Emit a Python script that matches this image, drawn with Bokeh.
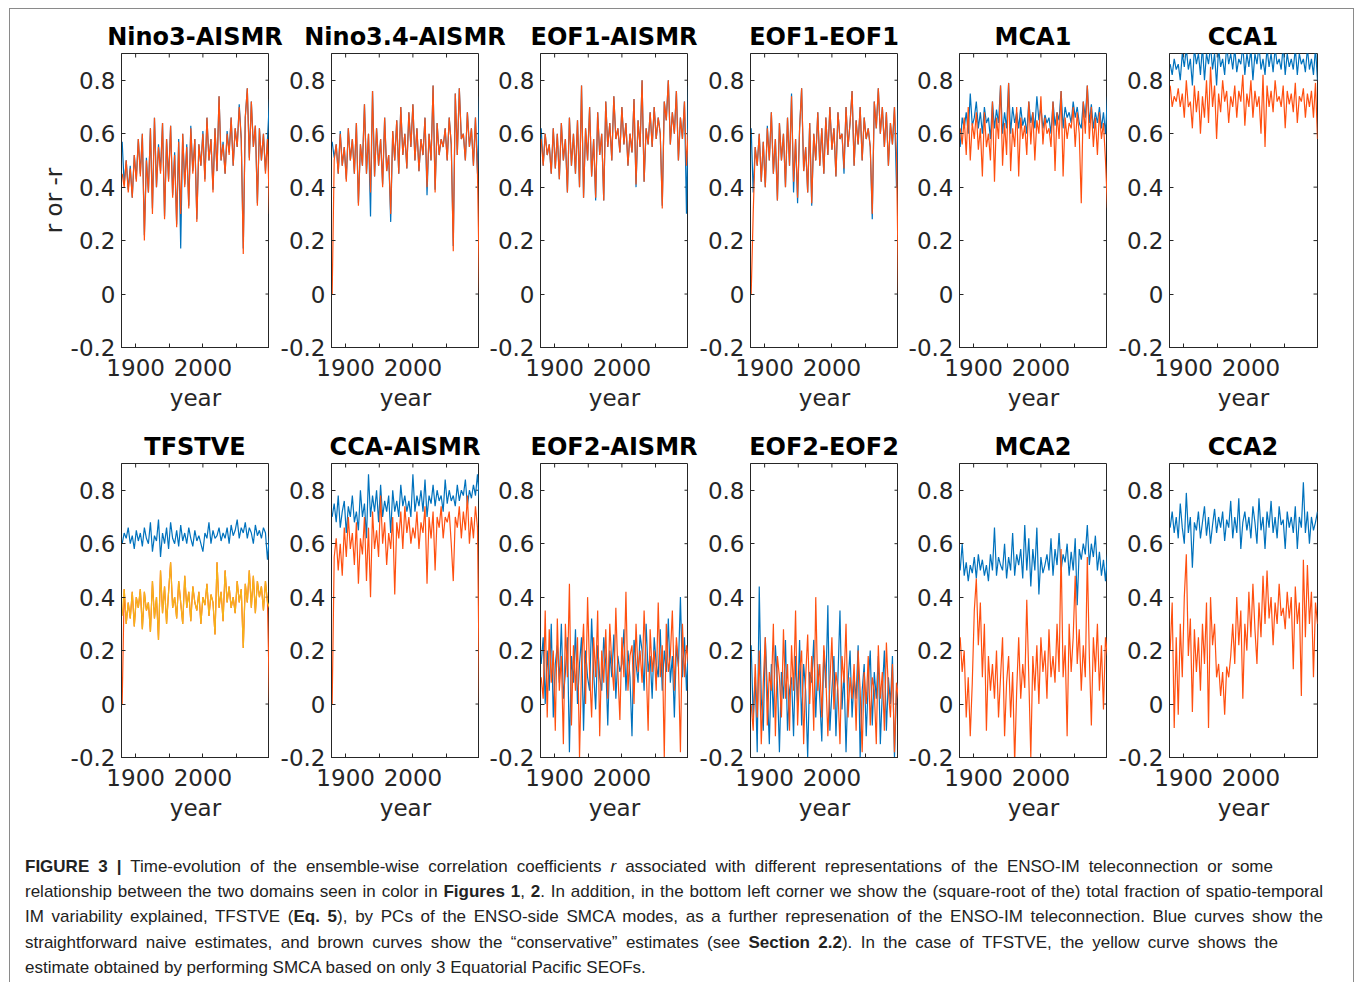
import math
from bokeh.plotting import figure
from bokeh.layouts import column, row
from bokeh.models import FixedTicker, Div, PrintfTickFormatter
from bokeh.embed import file_html
from bokeh.resources import INLINE

# ---------------- data ----------------
YEARS = list(range(1880, 2100, 3))  # 74 sample years

TITLES = ["Nino3-AISMR", "Nino3.4-AISMR", "EOF1-AISMR", "EOF1-EOF1", "MCA1", "CCA1",
          "TFSTVE", "CCA-AISMR", "EOF2-AISMR", "EOF2-EOF2", "MCA2", "CCA2"]

X_RANGE = (1879, 2099)
Y_RANGE = (-0.2, 0.9)
X_MAJOR = [1900, 2000]
X_MINOR = [1950, 2050]
Y_TICKS = [-0.2, 0, 0.2, 0.4, 0.6, 0.8]

# Nino3-AISMR
B1 = [0.57,0.41,0.50,0.39,0.48,0.36,0.52,0.43,0.58,0.45,
      0.60,0.22,0.51,0.38,0.62,0.32,0.66,0.40,0.56,0.46,
      0.64,0.29,0.58,0.43,0.63,0.37,0.53,0.26,0.58,0.17,
      0.60,0.41,0.56,0.33,0.63,0.46,0.58,0.28,0.56,0.48,
      0.61,0.43,0.66,0.50,0.58,0.39,0.62,0.46,0.74,0.50,
      0.57,0.45,0.61,0.53,0.66,0.48,0.62,0.55,0.71,0.58,
      0.17,0.66,0.77,0.51,0.72,0.55,0.63,0.34,0.62,0.50,
      0.60,0.46,0.58,0.73]
O1 = [0.45,0.40,0.50,0.38,0.47,0.36,0.52,0.42,0.58,0.44,
      0.60,0.20,0.50,0.38,0.62,0.30,0.66,0.40,0.55,0.45,
      0.64,0.28,0.58,0.42,0.63,0.36,0.52,0.25,0.57,0.30,
      0.60,0.40,0.55,0.32,0.62,0.45,0.58,0.27,0.56,0.48,
      0.60,0.42,0.66,0.50,0.58,0.38,0.62,0.46,0.74,0.50,
      0.56,0.45,0.60,0.52,0.66,0.48,0.62,0.55,0.70,0.58,
      0.15,0.66,0.77,0.50,0.72,0.55,0.63,0.33,0.62,0.50,
      0.60,0.45,0.58,0.30]
# Nino3.4-AISMR
B2 = [0.57,0.51,0.56,0.45,0.61,0.48,0.55,0.43,0.62,0.50,
      0.58,0.45,0.64,0.34,0.56,0.48,0.71,0.45,0.60,0.29,
      0.76,0.44,0.62,0.48,0.58,0.41,0.66,0.46,0.52,0.27,
      0.61,0.50,0.65,0.45,0.70,0.52,0.60,0.47,0.68,0.55,
      0.71,0.50,0.62,0.46,0.58,0.52,0.66,0.37,0.60,0.50,
      0.78,0.39,0.64,0.52,0.58,0.55,0.62,0.50,0.66,0.56,
      0.18,0.75,0.52,0.77,0.58,0.60,0.50,0.68,0.55,0.62,
      0.48,0.66,0.45,0.74]
O2 = [0.00,0.50,0.56,0.45,0.60,0.48,0.55,0.42,0.62,0.50,
      0.58,0.45,0.64,0.33,0.56,0.48,0.71,0.45,0.60,0.38,
      0.76,0.44,0.62,0.48,0.58,0.40,0.66,0.46,0.52,0.30,
      0.61,0.50,0.65,0.45,0.70,0.52,0.60,0.47,0.68,0.55,
      0.71,0.50,0.62,0.46,0.58,0.52,0.66,0.40,0.60,0.50,
      0.78,0.38,0.64,0.52,0.58,0.55,0.62,0.50,0.66,0.56,
      0.16,0.75,0.52,0.77,0.58,0.60,0.50,0.68,0.55,0.62,
      0.48,0.66,0.45,0.00]
# EOF1-AISMR
B3 = [0.62,0.48,0.60,0.52,0.56,0.45,0.62,0.47,0.60,0.43,
      0.64,0.50,0.58,0.38,0.66,0.48,0.60,0.45,0.65,0.40,
      0.78,0.36,0.62,0.50,0.70,0.44,0.58,0.35,0.68,0.52,
      0.60,0.35,0.72,0.55,0.64,0.50,0.74,0.58,0.62,0.53,
      0.70,0.56,0.64,0.48,0.60,0.53,0.73,0.40,0.65,0.55,
      0.80,0.42,0.62,0.56,0.68,0.55,0.70,0.58,0.66,0.60,
      0.33,0.72,0.65,0.80,0.56,0.68,0.60,0.76,0.50,0.66,
      0.58,0.72,0.30,0.78]
O3 = [0.58,0.48,0.60,0.52,0.56,0.45,0.62,0.47,0.60,0.43,
      0.64,0.50,0.58,0.38,0.66,0.48,0.60,0.45,0.65,0.40,
      0.78,0.36,0.62,0.50,0.70,0.44,0.58,0.36,0.68,0.52,
      0.60,0.35,0.72,0.55,0.64,0.50,0.74,0.58,0.62,0.53,
      0.70,0.56,0.64,0.48,0.60,0.53,0.73,0.41,0.65,0.55,
      0.80,0.42,0.62,0.56,0.68,0.55,0.70,0.58,0.66,0.60,
      0.32,0.72,0.65,0.80,0.56,0.68,0.60,0.76,0.50,0.66,
      0.58,0.72,0.48,0.62]
# EOF1-EOF1
B4 = [0.62,0.38,0.55,0.48,0.60,0.42,0.57,0.40,0.63,0.50,
      0.68,0.45,0.58,0.35,0.64,0.50,0.60,0.40,0.66,0.48,
      0.75,0.38,0.58,0.34,0.62,0.77,0.46,0.55,0.38,0.64,
      0.33,0.60,0.50,0.68,0.48,0.62,0.45,0.66,0.52,0.70,
      0.54,0.62,0.44,0.68,0.58,0.60,0.45,0.70,0.55,0.64,
      0.76,0.48,0.65,0.56,0.70,0.50,0.66,0.58,0.62,0.55,
      0.28,0.72,0.62,0.77,0.60,0.70,0.55,0.68,0.48,0.64,
      0.56,0.70,0.40,0.72]
O4 = [0.00,0.30,0.55,0.48,0.60,0.42,0.57,0.40,0.62,0.50,
      0.68,0.45,0.58,0.35,0.64,0.50,0.60,0.40,0.66,0.48,
      0.74,0.42,0.58,0.36,0.62,0.77,0.46,0.55,0.38,0.64,
      0.34,0.60,0.50,0.68,0.48,0.62,0.45,0.66,0.52,0.70,
      0.54,0.62,0.44,0.68,0.58,0.60,0.47,0.70,0.55,0.64,
      0.76,0.48,0.65,0.56,0.70,0.50,0.66,0.58,0.62,0.55,
      0.30,0.72,0.62,0.77,0.60,0.70,0.55,0.68,0.48,0.64,
      0.56,0.70,0.52,0.00]
# MCA1
B5 = [0.55,0.66,0.62,0.68,0.60,0.75,0.63,0.66,0.72,0.62,
      0.68,0.60,0.70,0.64,0.66,0.58,0.72,0.62,0.69,0.64,
      0.78,0.60,0.68,0.62,0.79,0.60,0.70,0.64,0.68,0.62,
      0.70,0.63,0.66,0.60,0.72,0.64,0.68,0.62,0.74,0.65,
      0.70,0.62,0.67,0.64,0.66,0.60,0.72,0.63,0.68,0.65,
      0.76,0.62,0.70,0.66,0.68,0.64,0.72,0.66,0.70,0.64,
      0.62,0.72,0.66,0.78,0.64,0.71,0.62,0.68,0.64,0.70,
      0.62,0.68,0.60,0.74]
O5 = [0.62,0.56,0.66,0.52,0.70,0.50,0.64,0.58,0.68,0.54,
      0.62,0.44,0.68,0.55,0.60,0.50,0.72,0.42,0.66,0.58,
      0.78,0.48,0.64,0.52,0.79,0.46,0.62,0.55,0.70,0.44,
      0.66,0.58,0.63,0.52,0.72,0.56,0.68,0.50,0.65,0.60,
      0.74,0.56,0.66,0.60,0.62,0.55,0.72,0.46,0.68,0.58,
      0.76,0.44,0.66,0.58,0.64,0.62,0.70,0.55,0.68,0.60,
      0.34,0.72,0.60,0.78,0.58,0.70,0.55,0.66,0.52,0.68,
      0.58,0.64,0.50,0.32]
# CCA1
B6 = [0.86,0.82,0.88,0.84,0.86,0.80,0.90,0.85,0.92,0.84,
      0.88,0.78,0.92,0.86,0.90,0.82,0.93,0.80,0.90,0.86,
      0.93,0.84,0.90,0.78,0.92,0.85,0.88,0.82,0.93,0.86,
      0.90,0.84,0.92,0.83,0.88,0.86,0.93,0.82,0.90,0.85,
      0.92,0.80,0.90,0.86,0.93,0.84,0.88,0.82,0.92,0.85,
      0.90,0.83,0.92,0.86,0.88,0.84,0.93,0.82,0.90,0.85,
      0.88,0.84,0.92,0.82,0.90,0.86,0.88,0.83,0.92,0.84,
      0.88,0.82,0.92,0.80]
O6 = [0.78,0.70,0.74,0.72,0.77,0.70,0.75,0.66,0.80,0.70,
      0.72,0.62,0.78,0.68,0.76,0.60,0.74,0.66,0.80,0.64,
      0.85,0.70,0.78,0.58,0.75,0.68,0.80,0.72,0.76,0.64,
      0.74,0.70,0.78,0.66,0.76,0.72,0.82,0.63,0.75,0.70,
      0.80,0.66,0.76,0.70,0.74,0.60,0.82,0.55,0.78,0.70,
      0.76,0.68,0.80,0.72,0.74,0.70,0.78,0.62,0.76,0.71,
      0.75,0.68,0.79,0.64,0.74,0.72,0.77,0.66,0.75,0.70,
      0.76,0.66,0.79,0.58]
# TFSTVE
B7 = [0.60,0.64,0.62,0.66,0.60,0.63,0.58,0.65,0.61,0.64,
      0.59,0.66,0.62,0.60,0.68,0.57,0.63,0.61,0.69,0.55,
      0.64,0.60,0.66,0.58,0.68,0.62,0.60,0.65,0.59,0.67,
      0.61,0.64,0.60,0.66,0.62,0.59,0.65,0.61,0.63,0.60,
      0.57,0.64,0.62,0.68,0.60,0.65,0.62,0.63,0.66,0.61,
      0.64,0.62,0.66,0.60,0.67,0.63,0.65,0.69,0.62,0.66,
      0.64,0.68,0.62,0.66,0.64,0.60,0.67,0.63,0.65,0.62,
      0.66,0.64,0.54,0.63]
O7 = [0.00,0.43,0.30,0.38,0.32,0.42,0.29,0.40,0.36,0.43,
      0.28,0.42,0.35,0.38,0.27,0.46,0.32,0.40,0.24,0.50,
      0.34,0.44,0.30,0.42,0.53,0.36,0.40,0.32,0.46,0.38,
      0.30,0.48,0.36,0.42,0.31,0.44,0.38,0.35,0.42,0.30,
      0.40,0.37,0.45,0.33,0.41,0.38,0.26,0.53,0.36,0.42,
      0.31,0.50,0.38,0.44,0.36,0.40,0.34,0.46,0.38,0.43,
      0.21,0.45,0.38,0.50,0.36,0.48,0.34,0.46,0.40,0.44,
      0.35,0.46,0.38,0.00]
Y7 = [0.33,0.43,0.30,0.38,0.32,0.42,0.29,0.40,0.36,0.43,
      0.28,0.42,0.35,0.38,0.27,0.46,0.32,0.40,0.24,0.50,
      0.34,0.44,0.30,0.42,0.53,0.36,0.40,0.32,0.46,0.38,
      0.30,0.48,0.36,0.42,0.31,0.44,0.38,0.35,0.42,0.30,
      0.40,0.37,0.45,0.33,0.41,0.38,0.26,0.53,0.36,0.42,
      0.31,0.50,0.38,0.44,0.36,0.40,0.34,0.46,0.38,0.43,
      0.21,0.45,0.38,0.50,0.36,0.48,0.34,0.46,0.40,0.44,
      0.35,0.46,0.38,0.36]
# CCA-AISMR
B8 = [0.70,0.75,0.68,0.78,0.66,0.72,0.76,0.64,0.74,0.70,
      0.78,0.68,0.72,0.65,0.80,0.70,0.75,0.62,0.86,0.70,
      0.78,0.72,0.80,0.68,0.82,0.70,0.76,0.72,0.78,0.64,
      0.80,0.72,0.76,0.70,0.82,0.74,0.78,0.72,0.76,0.70,
      0.86,0.72,0.78,0.74,0.80,0.72,0.84,0.70,0.78,0.75,
      0.82,0.74,0.80,0.76,0.78,0.72,0.84,0.75,0.80,0.76,
      0.78,0.74,0.82,0.76,0.80,0.78,0.84,0.74,0.80,0.77,
      0.82,0.78,0.86,0.76]
O8 = [0.00,0.55,0.62,0.50,0.60,0.48,0.66,0.55,0.70,0.58,
      0.64,0.52,0.68,0.45,0.62,0.56,0.70,0.46,0.66,0.40,
      0.72,0.58,0.65,0.55,0.78,0.60,0.68,0.52,0.64,0.58,
      0.70,0.41,0.68,0.62,0.72,0.58,0.74,0.64,0.70,0.60,
      0.66,0.62,0.72,0.58,0.68,0.64,0.74,0.45,0.70,0.62,
      0.72,0.50,0.70,0.66,0.74,0.62,0.70,0.68,0.72,0.60,
      0.46,0.70,0.66,0.74,0.62,0.72,0.65,0.78,0.60,0.70,
      0.62,0.74,0.66,0.00]
# EOF2-AISMR
B9 = [0.15,0.25,0.00,0.20,0.05,0.30,-0.05,0.15,0.22,0.08,
      0.30,0.02,0.12,0.25,-0.18,0.18,0.08,0.28,0.00,0.15,
      0.25,-0.10,0.20,0.10,0.05,0.32,0.12,-0.02,0.22,0.10,
      0.05,0.25,0.15,-0.08,0.20,0.10,0.26,0.02,0.18,0.12,
      0.15,0.28,0.05,0.20,0.10,-0.12,0.24,0.15,0.08,0.26,
      0.20,0.05,0.30,0.12,0.18,0.02,0.25,0.15,0.10,0.28,
      0.05,0.20,0.12,0.32,0.08,0.18,-0.05,0.22,0.14,0.40,
      0.10,0.25,0.05,0.22]
O9 = [0.10,0.02,0.35,-0.05,0.28,0.08,0.20,-0.10,0.32,0.05,
      0.18,-0.15,0.30,0.10,0.45,-0.08,0.22,0.05,0.25,-0.20,
      0.15,0.30,0.00,0.40,0.12,-0.05,0.25,0.10,0.35,-0.12,
      0.20,0.08,0.28,0.02,0.30,0.15,0.05,0.36,0.12,-0.06,
      0.25,0.10,0.42,0.05,0.18,0.22,0.00,0.30,0.12,0.20,
      0.08,0.35,0.15,-0.10,0.28,0.12,0.20,0.05,0.38,0.10,
      0.22,-0.20,0.30,0.12,0.18,0.35,0.05,0.25,0.15,-0.18,
      0.30,0.10,0.22,0.15]
# EOF2-EOF2
B10 = [0.22,-0.05,0.10,-0.18,0.44,0.02,-0.10,0.25,0.05,-0.15,
       0.15,-0.05,0.22,0.08,-0.18,0.12,0.02,0.24,-0.10,0.05,
       0.10,-0.12,0.18,0.00,0.24,-0.08,0.15,0.05,-0.20,0.12,
       0.08,0.24,-0.05,0.15,0.02,-0.14,0.20,0.06,0.37,-0.10,
       0.05,0.18,-0.12,0.10,0.35,-0.02,0.12,-0.18,0.08,0.20,
       -0.05,0.10,0.02,0.22,-0.20,0.05,0.15,-0.12,0.08,0.20,
       -0.08,0.12,0.02,0.18,-0.15,0.05,0.20,-0.10,0.10,0.00,
       0.18,-0.20,0.05,0.08]
O10 = [0.00,-0.10,0.15,-0.05,0.20,-0.15,0.08,0.25,-0.08,0.12,
       0.05,0.30,-0.12,0.18,0.10,-0.05,0.28,0.02,0.15,-0.10,
       0.22,0.05,0.35,-0.08,0.12,0.20,-0.15,0.10,0.26,0.00,
       0.18,-0.10,0.40,0.05,0.15,-0.05,0.22,0.10,-0.12,0.08,
       0.25,-0.02,0.12,0.05,-0.15,0.18,0.08,0.30,-0.05,0.10,
       0.02,0.15,-0.10,0.20,0.05,-0.18,0.12,0.00,0.18,-0.08,
       0.10,0.05,-0.15,0.22,0.02,0.12,-0.10,0.23,0.05,-0.05,
       0.15,-0.18,0.08,0.02]
# MCA2
B11 = [0.50,0.60,0.48,0.53,0.46,0.52,0.49,0.55,0.47,0.56,
       0.50,0.54,0.48,0.52,0.46,0.56,0.50,0.66,0.48,0.55,
       0.52,0.50,0.60,0.47,0.55,0.50,0.64,0.48,0.56,0.52,
       0.58,0.47,0.67,0.50,0.62,0.44,0.58,0.50,0.66,0.41,
       0.55,0.49,0.52,0.56,0.50,0.62,0.48,0.58,0.52,0.64,
       0.50,0.56,0.53,0.60,0.48,0.57,0.50,0.62,0.37,0.58,
       0.54,0.60,0.56,0.67,0.52,0.60,0.55,0.63,0.50,0.57,
       0.48,0.54,0.46,0.56]
O11 = [0.25,0.12,0.20,-0.05,0.10,-0.12,0.08,0.35,0.47,0.22,
       0.38,0.10,0.30,-0.10,0.18,0.05,0.15,0.02,0.20,-0.05,
       0.10,0.25,-0.12,0.08,0.18,-0.05,0.12,-0.22,0.05,0.25,
       0.02,0.15,0.06,0.39,0.10,-0.20,0.18,0.05,0.22,0.00,
       0.25,0.12,0.20,0.02,0.28,0.10,0.18,0.08,0.30,0.12,
       0.58,0.10,0.22,-0.12,0.30,0.12,0.25,0.48,0.15,0.28,
       0.05,0.22,0.10,0.55,0.18,-0.08,0.25,0.12,0.30,0.05,
       0.22,-0.02,0.25,0.18]
# CCA2
B12 = [0.66,0.72,0.64,0.70,0.62,0.75,0.66,0.60,0.79,0.64,
       0.70,0.51,0.68,0.65,0.72,0.62,0.68,0.74,0.63,0.70,
       0.60,0.67,0.73,0.64,0.70,0.66,0.72,0.61,0.69,0.66,
       0.76,0.62,0.70,0.64,0.77,0.58,0.68,0.72,0.65,0.70,
       0.62,0.74,0.68,0.60,0.77,0.65,0.70,0.58,0.72,0.66,
       0.76,0.64,0.70,0.62,0.74,0.67,0.69,0.58,0.72,0.66,
       0.70,0.64,0.74,0.58,0.70,0.66,0.83,0.64,0.72,0.60,
       0.70,0.65,0.68,0.72]
O12 = [0.20,0.38,-0.09,0.25,-0.04,0.30,0.10,0.40,0.56,0.18,
       0.32,-0.03,0.28,0.12,0.25,0.05,0.30,0.15,0.38,-0.09,
       0.40,0.22,0.30,0.10,0.15,0.03,0.12,-0.04,0.14,0.10,
       0.18,0.30,0.15,0.40,0.22,0.35,0.02,0.30,0.20,0.42,
       0.25,0.45,0.28,0.15,0.38,0.25,0.48,0.30,0.50,0.32,
       0.40,0.22,0.38,0.30,0.45,0.33,0.36,0.28,0.42,0.32,
       0.40,0.13,0.44,0.30,0.38,0.03,0.54,0.25,0.52,0.30,
       0.42,0.10,0.38,0.30]

BLUE = "#0072BD"
ORANGE = "#FF5010"
YELLOW = "#F6B319"
AX = "#262626"

PANELS = [
    [B1, O1], [B2, O2], [B3, O3], [B4, O4], [B5, O5], [B6, O6],
    [B7, O7, Y7], [B8, O8], [B9, O9], [B10, O10], [B11, O11], [B12, O12],
]
COLORS = [BLUE, ORANGE, YELLOW]

# ---------------- layout geometry ----------------
FRAME_W, FRAME_H = 148, 294
LEFTS = [111, 62, 61, 62, 61, 62]
RIGHTS = [0, 0, 0, 0, 0, 36]
TOP_B = 6
BOTTOM = 68
FONT = "DejaVu Sans"
TITLE_LEFTS = [80, 290, 499, 709, 918, 1128]


def make_panel(k):
    r, c = divmod(k, 6)
    p = figure(width=LEFTS[c] + FRAME_W + RIGHTS[c],
               height=TOP_B + FRAME_H + BOTTOM,
               x_range=X_RANGE, y_range=Y_RANGE, title=None,
               output_backend="svg", toolbar_location=None,
               min_border_left=LEFTS[c], min_border_right=RIGHTS[c],
               min_border_top=TOP_B, min_border_bottom=BOTTOM,
               x_axis_label="year",
               y_axis_label="r or -r" if k == 0 else None)
    p.xgrid.visible = False
    p.ygrid.visible = False
    p.outline_line_color = AX
    p.outline_line_width = 1
    p.background_fill_color = "white"
    p.border_fill_color = "white"

    fmt = PrintfTickFormatter(format="%g")
    xa = p.xaxis[0]
    xa.ticker = FixedTicker(ticks=X_MAJOR, minor_ticks=X_MINOR)
    xa.formatter = fmt
    ya = p.yaxis[0]
    ya.ticker = FixedTicker(ticks=Y_TICKS, minor_ticks=[])
    ya.formatter = fmt
    for ax in (xa, ya):
        ax.axis_line_color = AX
        ax.major_tick_line_color = AX
        ax.minor_tick_line_color = AX
        ax.major_tick_in = 4
        ax.major_tick_out = 0
        ax.minor_tick_in = 4
        ax.minor_tick_out = 0
        ax.major_label_text_font = FONT
        ax.major_label_text_font_size = "23px"
        ax.major_label_text_color = AX
        ax.axis_label_text_font = FONT
        ax.axis_label_text_font_size = "23px"
        ax.axis_label_text_font_style = "normal"
        ax.axis_label_text_color = AX
    xa.major_label_standoff = 11
    xa.axis_label_standoff = 6
    ya.major_label_standoff = 6
    ya.axis_label_standoff = 1

    # box ticks on the top and right frame edges (same tick values as the axes)
    top_x = X_MAJOR + X_MINOR
    p.ray(x=top_x, y=[Y_RANGE[1]] * len(top_x), length=4, length_units="screen",
          angle=-math.pi / 2, line_color=AX, line_width=1)
    p.ray(x=[X_RANGE[1]] * len(Y_TICKS), y=Y_TICKS, length=4, length_units="screen",
          angle=math.pi, line_color=AX, line_width=1)

    for s, col in zip(PANELS[k], COLORS):
        p.line(YEARS, s, line_color=col, line_width=1.2)
    return p


def title_row(names, height, top):
    spans = "".join(
        f'<div style="position:absolute;left:{x}px;top:{top}px;width:210px;text-align:center;'
        f'font-family:\'DejaVu Sans\';font-weight:bold;font-size:24px;line-height:24px;'
        f'color:#000;white-space:nowrap;">{n}</div>'
        for n, x in zip(names, TITLE_LEFTS))
    return Div(text=f'<div style="position:relative;width:1343px;height:{height}px;">{spans}</div>',
               width=1343, height=height, margin=0)


plots = [make_panel(k) for k in range(12)]
row1 = row(plots[:6], margin=0)
row2 = row(plots[6:], margin=0)

CAPTION_LINES = [
    '<b>FIGURE 3 |</b> Time-evolution of the ensemble-wise correlation coefficients <i>r</i> associated with different representations of the ENSO-IM teleconnection or some',
    'relationship between the two domains seen in color in <b>Figures 1</b>, <b>2</b>. In addition, in the bottom left corner we show the (square-root of the) total fraction of spatio-temporal',
    'IM variability explained, TFSTVE (<b>Eq. 5</b>), by PCs of the ENSO-side SMCA modes, as a further represenation of the ENSO-IM teleconnection. Blue curves show the',
    'straightforward naive estimates, and brown curves show the \u201cconservative\u201d estimates (see <b>Section 2.2</b>). In the case of TFSTVE, the yellow curve shows the',
    'estimate obtained by performing SMCA based on only 3 Equatorial Pacific SEOFs.',
]
LINE_W = [1248, 1298, 1298, 1253, None]

html = ['<div style="padding:29px 0 0 15px;font-family:\'Liberation Sans\',Arial,sans-serif;'
        'font-size:17px;line-height:25.2px;color:#222;">']
for t, w in zip(CAPTION_LINES, LINE_W):
    if w:
        html.append(f'<div style="width:{w}px;white-space:nowrap;text-align:justify;'
                    f'text-align-last:justify;">{t}</div>')
    else:
        html.append(f'<div style="white-space:nowrap;">{t}</div>')
html.append('</div>')
caption = Div(text="".join(html), width=1343, height=166, margin=0)

page = column(title_row(TITLES[:6], 38, 16), row1,
              title_row(TITLES[6:], 42, 20), row2, caption,
              styles={"border": "1px solid #8a8a8a", "margin-top": "8px",
                      "margin-left": "9px", "background": "white"})

open("out.html", "w").write(file_html(page, INLINE))
